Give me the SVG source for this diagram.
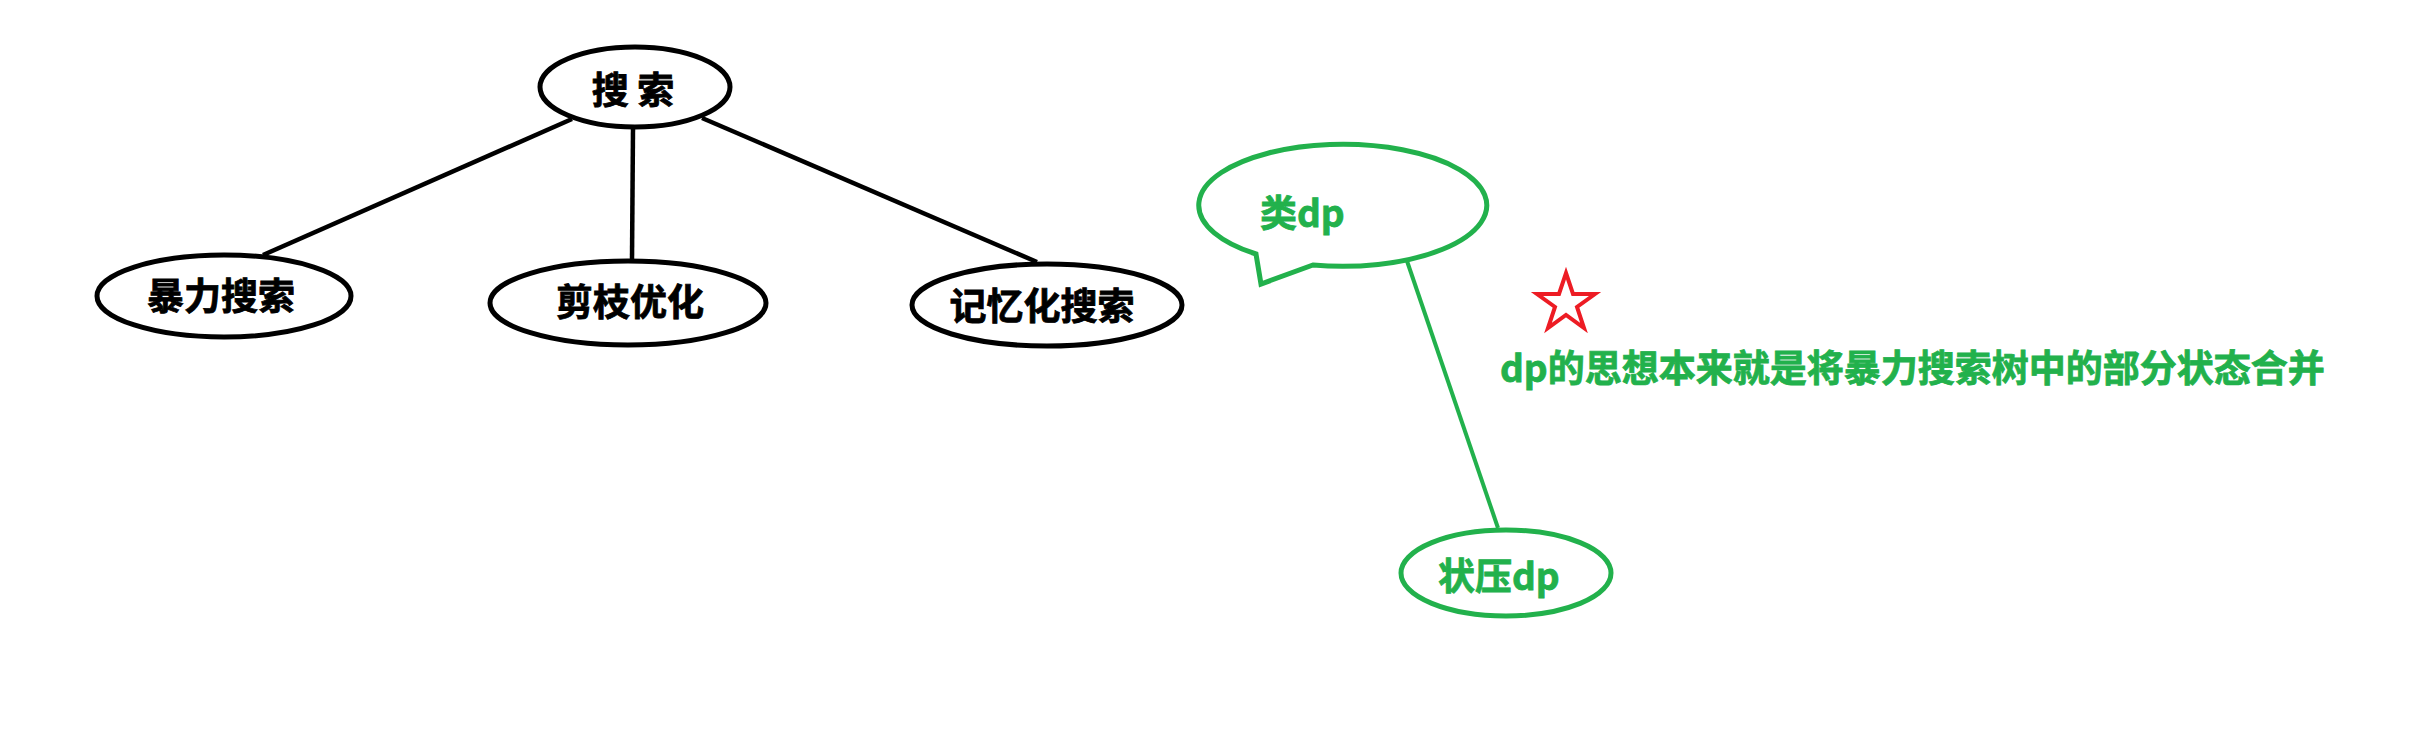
<svg xmlns="http://www.w3.org/2000/svg" width="2421" height="756" viewBox="0 0 2421 756">
<style>
.bk{fill:#fff;stroke:#000;stroke-width:5}
.gr{fill:#fff;stroke:#22B14C;stroke-width:5}
.t{font-family:"Noto Sans CJK SC","Noto Sans",sans-serif;font-weight:bold;font-size:37px;stroke-width:0.8}
.tb{fill:#000;stroke:#000}
.tg{fill:#22B14C;stroke:#22B14C}
</style>
<rect width="2421" height="756" fill="#fff"/>
<g id="connectors">
<line x1="572" y1="119" x2="263" y2="255" stroke="#000" stroke-width="4.5"/>
<line x1="633" y1="128" x2="632" y2="260" stroke="#000" stroke-width="4.5"/>
<line x1="702" y1="118" x2="1037" y2="262" stroke="#000" stroke-width="4.5"/>
<line x1="1407" y1="261" x2="1498" y2="528" stroke="#22B14C" stroke-width="4"/>
</g>
<g id="search">
<ellipse class="bk" cx="635" cy="87" rx="95" ry="40"/>
<text class="t tb" x="633" y="104" text-anchor="middle">搜 索</text>
</g>
<g id="brute">
<ellipse class="bk" cx="224" cy="296" rx="127" ry="41"/>
<text class="t tb" x="221" y="310" text-anchor="middle">暴力搜索</text>
</g>
<g id="prune">
<ellipse class="bk" cx="628" cy="303" rx="138" ry="42"/>
<text class="t tb" x="630" y="316" text-anchor="middle">剪枝优化</text>
</g>
<g id="memo">
<ellipse class="bk" cx="1047" cy="305" rx="135" ry="41"/>
<text class="t tb" x="1042" y="320" text-anchor="middle">记忆化搜索</text>
</g>
<g id="likedp">
<path class="gr" d="M 1313 265 A 144 61 0 1 0 1256 254 L 1261 284 Z"/>
<text class="t tg" x="1260" y="227">类dp</text>
</g>
<g id="bitdp">
<ellipse class="gr" cx="1506" cy="573" rx="105" ry="43"/>
<text class="t tg" x="1438" y="590">状压dp</text>
</g>
<g id="star">
<polygon points="1566,273 1573,294 1595,294 1577,307 1584,328 1566,315 1548,328 1555,307 1537,294 1559,294" fill="none" stroke="#ED1C24" stroke-width="4" stroke-linejoin="miter"/>
</g>
<g id="note">
<text class="t tg" x="1500" y="382">dp的思想本来就是将暴力搜索树中的部分状态合并</text>
</g>
</svg>
